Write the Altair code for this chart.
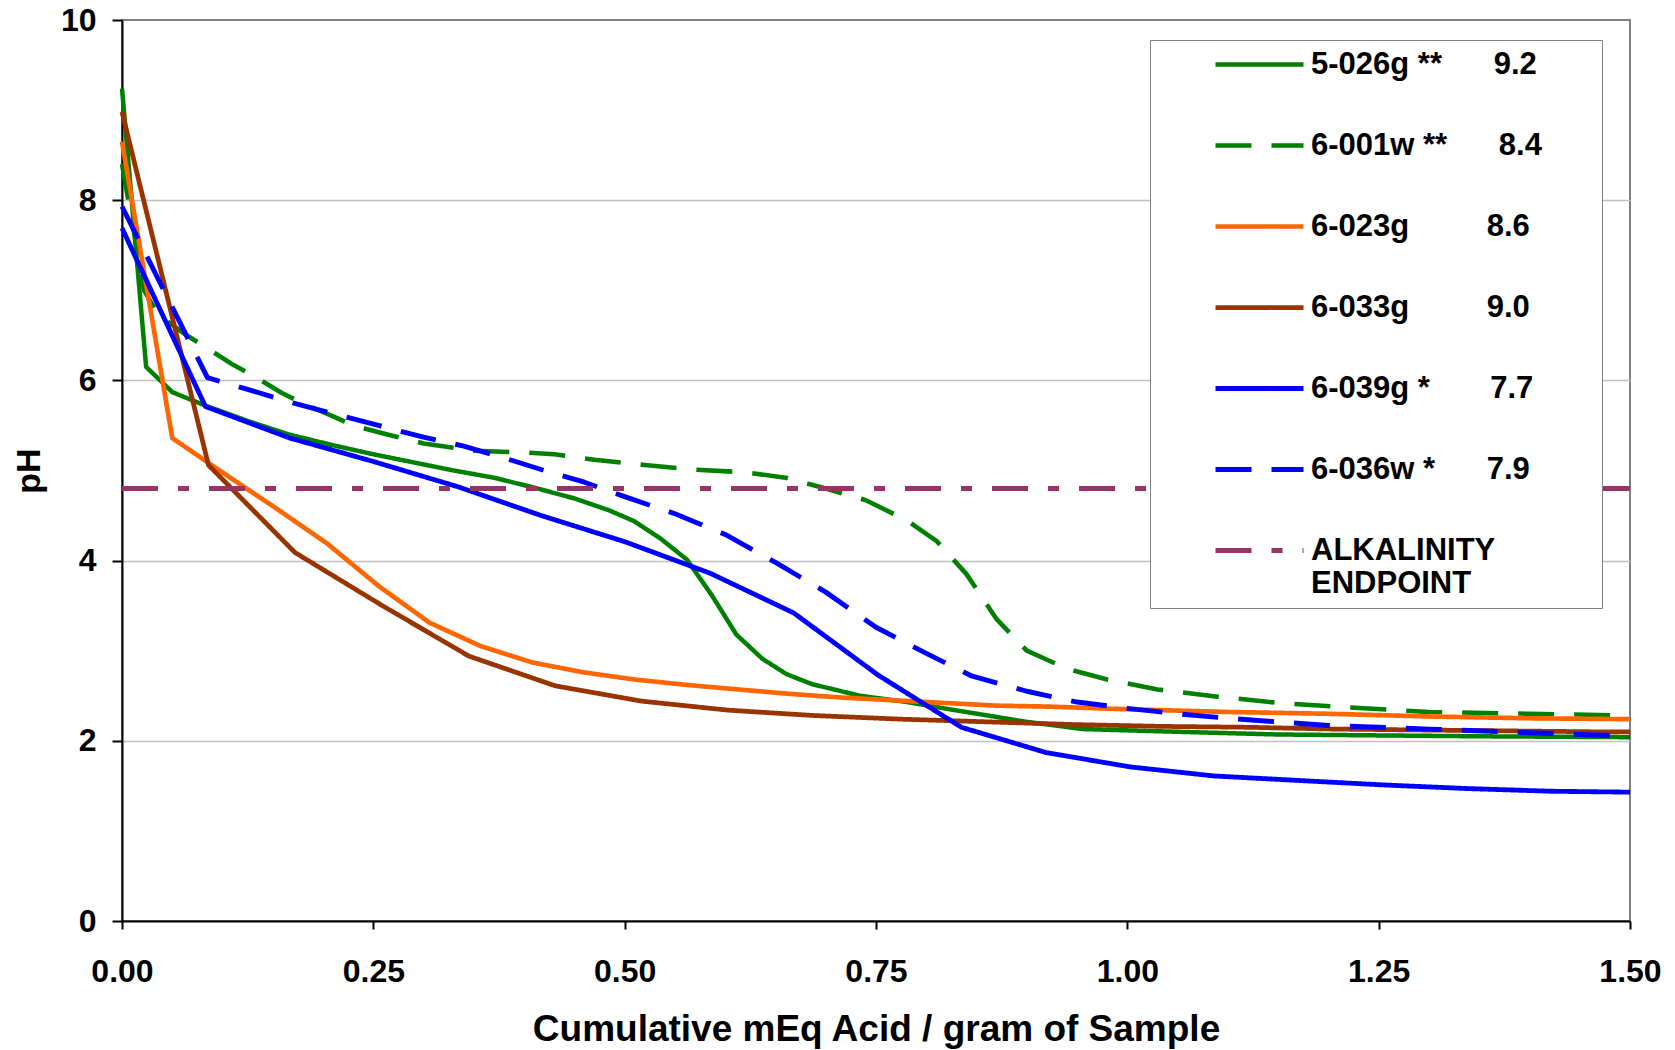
import altair as alt
import pandas as pd

NB = "\u00a0"

# ---- series data ----
x_5026g = [0, 0.024, 0.05, 0.083, 0.125, 0.166, 0.21, 0.25, 0.29, 0.33, 0.37, 0.41, 0.45, 0.484, 0.509,
           0.535, 0.562, 0.587, 0.611, 0.637, 0.661, 0.686, 0.734, 0.781, 0.834, 0.9, 0.956, 1.05, 1.15,
           1.25, 1.35, 1.5]
ph_5026g = [9.24, 6.15, 5.87, 5.72, 5.55, 5.40, 5.28, 5.18, 5.09, 5.00, 4.92, 4.81, 4.69, 4.56, 4.44,
            4.25, 4.01, 3.61, 3.18, 2.91, 2.74, 2.63, 2.50, 2.43, 2.33, 2.21, 2.13, 2.10, 2.07,
            2.06, 2.05, 2.04]

x_6001w = [0, 0.022, 0.036, 0.063, 0.083, 0.111, 0.131, 0.159, 0.179, 0.21, 0.23, 0.264, 0.3, 0.35, 0.4,
           0.43, 0.47, 0.52, 0.57, 0.62, 0.66, 0.7, 0.74, 0.78, 0.81, 0.84, 0.87, 0.9, 0.94, 0.98, 1.03,
           1.09, 1.15, 1.22, 1.3, 1.4, 1.5]
ph_6001w = [8.4, 7.0, 6.73, 6.51, 6.37, 6.17, 6.05, 5.86, 5.75, 5.6, 5.5, 5.4, 5.3, 5.22, 5.2,
            5.18, 5.12, 5.06, 5.01, 4.98, 4.92, 4.8, 4.67, 4.45, 4.22, 3.85, 3.35, 3.0, 2.8, 2.68, 2.57,
            2.49, 2.42, 2.37, 2.32, 2.30, 2.28]

x_6023g = [0, 0.05, 0.101, 0.152, 0.204, 0.255, 0.306, 0.357, 0.408, 0.459, 0.51, 0.562, 0.613, 0.665,
           0.716, 0.767, 0.818, 0.87, 0.92, 1.0, 1.1, 1.2, 1.3, 1.4, 1.5]
ph_6023g = [8.65, 5.36, 4.97, 4.59, 4.19, 3.72, 3.31, 3.05, 2.87, 2.76, 2.68, 2.62, 2.57, 2.52,
            2.48, 2.45, 2.42, 2.39, 2.38, 2.35, 2.32, 2.30, 2.27, 2.25, 2.24]

x_6033g = [0, 0.086, 0.172, 0.259, 0.345, 0.431, 0.517, 0.603, 0.689, 0.775, 0.862, 0.948, 1.034, 1.12,
           1.206, 1.292, 1.378, 1.464, 1.5]
ph_6033g = [8.98, 5.06, 4.09, 3.50, 2.94, 2.61, 2.44, 2.34, 2.28, 2.24, 2.21, 2.18, 2.16, 2.15,
            2.13, 2.12, 2.11, 2.10, 2.10]

x_6039g = [0, 0.083, 0.167, 0.25, 0.334, 0.417, 0.5, 0.585, 0.668, 0.752, 0.835, 0.919, 1.003, 1.086,
           1.17, 1.255, 1.338, 1.422, 1.5]
ph_6039g = [7.69, 5.71, 5.36, 5.10, 4.82, 4.50, 4.21, 3.86, 3.42, 2.73, 2.15, 1.87, 1.71, 1.61,
            1.56, 1.51, 1.47, 1.44, 1.43]

x_6036w = [0, 0.085, 0.125, 0.17, 0.21, 0.255, 0.3, 0.34, 0.38, 0.42, 0.46, 0.5, 0.55, 0.6, 0.65, 0.7,
           0.75, 0.8, 0.845, 0.9, 0.95, 1.0, 1.05, 1.1, 1.15, 1.2, 1.3, 1.4, 1.5]
ph_6036w = [7.93, 6.03, 5.9, 5.75, 5.63, 5.5, 5.37, 5.27, 5.14, 5.0, 4.87, 4.71, 4.52, 4.29, 3.98, 3.65,
            3.26, 2.97, 2.72, 2.55, 2.43, 2.36, 2.30, 2.25, 2.21, 2.17, 2.13, 2.09, 2.05]

x_alk = [0, 1.5]
ph_alk = [4.8, 4.8]

# ---- legend text ----
sample_names = ["5-026g **", "6-001w **", "6-023g", "6-033g", "6-039g *", "6-036w *", "ALKALINITY ENDPOINT"]
initial_ph = ["9.2", "8.4", "8.6", "9.0", "7.7", "7.9", ""]
name_gaps = [6, 6, 9, 9, 7, 6, 0]
colors = ["#008000", "#008000", "#FF6600", "#993300", "#0000FF", "#0000FF", "#993366"]
dashes = [[1, 0], [36, 20], [1, 0], [1, 0], [1, 0], [36, 20], [36, 20, 11, 20]]
widths = [4.5, 5, 4.5, 4.5, 4.5, 5, 5.5]

labels = []
for n, v, g in zip(sample_names, initial_ph, name_gaps):
    labels.append(n + NB * g + v if v else n)

xs = [x_5026g, x_6001w, x_6023g, x_6033g, x_6039g, x_6036w, x_alk]
ys = [ph_5026g, ph_6001w, ph_6023g, ph_6033g, ph_6039g, ph_6036w, ph_alk]

rows = []
for lab, xx, yy in zip(labels, xs, ys):
    for i, (a, b) in enumerate(zip(xx, yy)):
        rows.append({"series": lab, "x": a, "pH": b, "i": i})
df = pd.DataFrame(rows)

FONT = "Liberation Sans"

legend = alt.Legend(
    title=NB, titleOrient="right", titlePadding=51, titleFontSize=1, titleOpacity=0,
    orient="none", legendX=1028, legendY=20,
    symbolType="M-4,0H4", symbolSize=484, symbolStrokeWidth=4.5, symbolOffset=85,
    labelFont=FONT, labelFontSize=31, labelFontWeight="bold", labelColor="black",
    labelLimit=2000, labelOffset=36, rowPadding=49, padding=9,
    strokeColor="#808080", fillColor="white",
    labelExpr="datum.label == 'ALKALINITY ENDPOINT' ? ['ALKALINITY', 'ENDPOINT'] : datum.label",
)

x_enc = alt.X("x:Q", scale=alt.Scale(domain=[0, 1.5], nice=False, zero=False),
              axis=alt.Axis(values=[0, 0.25, 0.5, 0.75, 1.0, 1.25, 1.5], format=".2f",
                            labelFont=FONT, labelFontSize=32, labelFontWeight="bold", labelColor="black",
                            labelPadding=27, labelFlush=False, tickSize=8, tickColor="black", tickWidth=2,
                            domainColor="black", domainWidth=2, grid=False,
                            title="Cumulative mEq Acid / gram of Sample", titleFont=FONT,
                            titleFontSize=37, titleFontWeight="bold", titleColor="black", titlePadding=24))
y_enc = alt.Y("pH:Q", scale=alt.Scale(domain=[0, 10], nice=False),
              axis=alt.Axis(values=[0, 2, 4, 6, 8, 10], format="d",
                            labelFont=FONT, labelFontSize=32, labelFontWeight="bold", labelColor="black",
                            labelPadding=16, tickSize=10, tickColor="black", tickWidth=2,
                            domainColor="black", domainWidth=2, grid=True, gridColor="#c0c0c0",
                            gridWidth=1.5,
                            gridOpacity={"condition": {"test": "datum.value >= 10 || datum.value <= 0", "value": 0}, "value": 1},
                            title="pH", titleFont=FONT, titleFontSize=34, titleFontWeight="bold",
                            titleColor="black", titlePadding=14))

color_enc = alt.Color("series:N", scale=alt.Scale(domain=labels, range=colors), legend=legend)
dash_enc = alt.StrokeDash("series:N", scale=alt.Scale(domain=labels, range=dashes), legend=legend)
width_enc = alt.StrokeWidth("series:N", scale=alt.Scale(domain=labels, range=widths), legend=legend)

base = alt.Chart(df).mark_line(strokeCap="butt", strokeJoin="round").encode(
    x=x_enc, y=y_enc, color=color_enc, strokeDash=dash_enc, strokeWidth=width_enc,
    order=alt.Order("i:Q"),
)

samples = base.transform_filter(alt.datum.series != "ALKALINITY ENDPOINT")
alk = base.transform_filter(alt.datum.series == "ALKALINITY ENDPOINT")

chart = alt.layer(samples, alk).properties(
    width=1508, height=901,
    autosize=alt.AutoSizeParams(type="none"),
    padding={"left": 122, "top": 20, "right": 45, "bottom": 129},
    background="white",
).configure_view(stroke="#808080", strokeWidth=2)

chart.save("out.html", embed_options={"renderer": "svg", "actions": False})
